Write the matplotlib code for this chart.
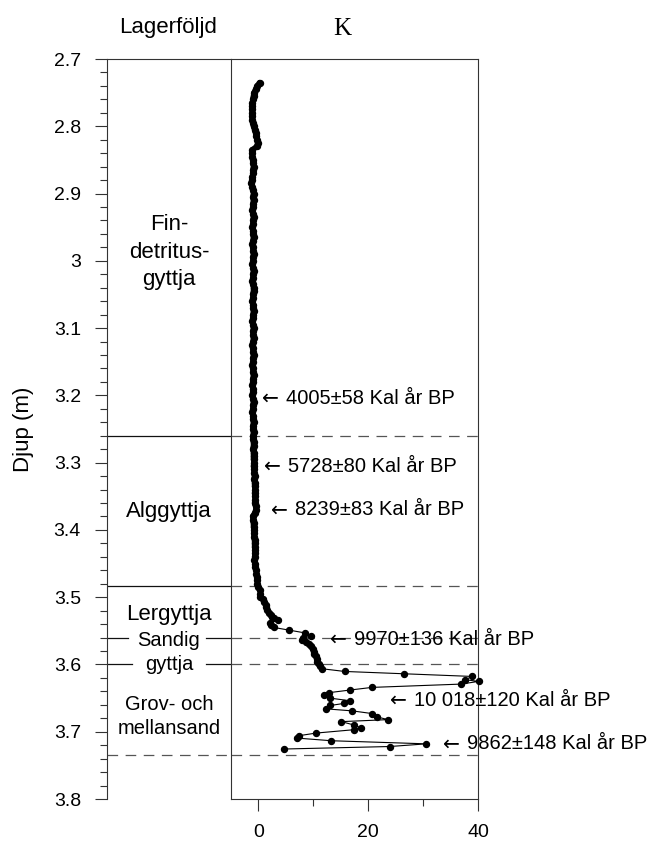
import matplotlib
matplotlib.use('Agg')
import matplotlib.pyplot as plt
from matplotlib.ticker import MultipleLocator, FuncFormatter, FixedLocator
from matplotlib.transforms import offset_copy

plt.rcParams['font.family'] = ['Liberation Sans', 'DejaVu Sans']

# ---------------- data ----------------
# upper, dense gyttja section (depth m, value)
depth_upper = [
    2.735, 2.740, 2.745, 2.750, 2.755, 2.760, 2.765, 2.770, 2.775, 2.780,
    2.785, 2.790, 2.795, 2.800, 2.805, 2.810, 2.815, 2.820, 2.825, 2.830,
    2.835, 2.840, 2.845, 2.850, 2.855, 2.860, 2.865, 2.870, 2.875, 2.880,
    2.885, 2.890, 2.895, 2.900, 2.905, 2.910, 2.915, 2.920, 2.925, 2.930,
    2.935, 2.940, 2.945, 2.950, 2.955, 2.960, 2.965, 2.970, 2.975, 2.980,
    2.985, 2.990, 2.995, 3.000, 3.005, 3.010, 3.015, 3.020, 3.025, 3.030,
    3.035, 3.040, 3.045, 3.050, 3.055, 3.060, 3.065, 3.070, 3.075, 3.080,
    3.085, 3.090, 3.095, 3.100, 3.105, 3.110, 3.115, 3.120, 3.125, 3.130,
    3.135, 3.140, 3.145, 3.150, 3.155, 3.160, 3.165, 3.170, 3.175, 3.180,
    3.185, 3.190, 3.195, 3.200, 3.205, 3.210, 3.215, 3.220, 3.225, 3.230,
    3.235, 3.240, 3.245, 3.250, 3.255, 3.260, 3.265, 3.270, 3.275, 3.280,
    3.285, 3.290, 3.295, 3.300, 3.305, 3.310, 3.315, 3.320, 3.325, 3.330,
    3.335, 3.340, 3.345, 3.350, 3.355, 3.360, 3.365, 3.370, 3.375, 3.380,
    3.385, 3.390, 3.395, 3.400, 3.405, 3.410, 3.415, 3.420, 3.425, 3.430,
    3.435, 3.440,
]
value_upper = [
    0.2, -0.2, -0.5, -0.8, -0.9, -1.0, -1.1, -1.1, -1.2, -1.1,
    -1.2, -1.1, -1.0, -0.9, -0.7, -0.5, -0.4, -0.2, -0.1, -0.3,
    -1.1, -1.2, -1.1, -1.0, -1.0, -0.9, -1.0, -1.0, -1.1, -1.2,
    -1.3, -1.1, -1.0, -0.9, -1.0, -0.9, -1.0, -1.0, -1.1, -1.0,
    -0.9, -1.0, -1.0, -1.1, -1.0, -1.0, -0.9, -1.0, -1.1, -1.0,
    -1.0, -0.9, -1.0, -1.0, -1.1, -1.0, -0.9, -1.0, -1.0, -1.1,
    -1.0, -0.9, -0.9, -1.0, -1.0, -1.1, -1.0, -1.0, -0.9, -1.0,
    -1.0, -1.1, -1.0, -0.9, -1.0, -1.0, -0.9, -1.0, -1.1, -1.0,
    -1.0, -0.9, -1.0, -1.0, -1.1, -1.0, -1.0, -0.9, -1.0, -1.0,
    -1.1, -1.0, -1.0, -1.1, -1.0, -0.9, -1.0, -1.0, -1.1, -1.0,
    -1.0, -0.9, -1.0, -1.0, -0.9, -1.0, -1.0, -0.9, -0.9, -1.0,
    -0.9, -0.9, -0.9, -0.8, -0.9, -0.8, -0.8, -0.7, -0.8, -0.7,
    -0.7, -0.6, -0.7, -0.6, -0.6, -0.7, -0.5, -0.4, -0.7, -1.0,
    -1.0, -0.9, -0.9, -0.8, -0.8, -0.8, -0.7, -0.7, -0.7, -0.6,
    -0.6, -0.7,
]
# transition section (Alggyttja -> Lergyttja -> Sandig gyttja)
depth_mid = [
    3.445, 3.450, 3.455, 3.460, 3.465, 3.470, 3.475, 3.480, 3.485, 3.490,
    3.495, 3.499, 3.503, 3.507, 3.511, 3.515, 3.519, 3.523, 3.526, 3.529,
    3.531, 3.534, 3.538, 3.541, 3.545, 3.549, 3.553, 3.558, 3.561, 3.563,
    3.566, 3.569, 3.573, 3.577, 3.581, 3.584, 3.588, 3.592, 3.596, 3.600,
    3.603,
]
value_mid = [
    -0.8, -0.7, -0.6, -0.5, -0.4, -0.2, -0.2, -0.3, 0.0, 0.2,
    0.3, 0.3, 0.8, 1.0, 1.3, 1.4, 1.6, 1.9, 2.2, 2.5,
    2.8, 3.5, 2.1, 2.3, 2.8, 5.6, 8.4, 9.5, 8.2, 8.0,
    8.6, 9.3, 9.6, 9.9, 10.1, 10.2, 10.4, 10.6, 10.7, 11.0,
    11.2,
]
# sand section
depth_sand = [
    3.6064, 3.6104, 3.6138, 3.6178, 3.6227, 3.6252, 3.6292, 3.6341, 3.6380, 3.6420,
    3.6460, 3.6500, 3.6540, 3.6580, 3.6610, 3.6660, 3.6690, 3.6730, 3.6780, 3.6820,
    3.6850, 3.6900, 3.6940, 3.6970, 3.7020, 3.7060, 3.7095, 3.7134, 3.7180, 3.7220,
    3.7257,
]
value_sand = [
    11.6, 15.7, 26.5, 38.9, 37.7, 40.1, 36.9, 20.7, 16.7, 12.8,
    11.9, 13.0, 16.7, 15.5, 13.1, 12.3, 17.1, 20.7, 21.6, 23.6,
    15.1, 17.4, 18.6, 17.4, 10.5, 7.3, 7.1, 13.3, 30.6, 23.9,
    4.7,
]

# layer boundaries (m)
boundaries = [3.26, 3.483, 3.56, 3.60, 3.735]
# lithology labels and their depths
layer_labels = ["Fin-\ndetritus-\ngyttja", "Alggyttja", "Lergyttja", "Sandig", "gyttja",
                "Grov- och\nmellansand"]
layer_depths = [2.987, 3.373, 3.526, 3.564, 3.600, 3.677]
# dating annotations
date_labels = ["4005\u00b158 Kal år BP", "5728\u00b180 Kal år BP", "8239\u00b183 Kal år BP",
               "9970\u00b1136 Kal år BP", "10 018\u00b1120 Kal år BP", "9862\u00b1148 Kal år BP"]
date_depths = [3.204, 3.306, 3.370, 3.563, 3.653, 3.718]
date_xpos = [0.7, 1.0, 2.2, 13.1, 23.9, 33.7]

x_major = [0, 20, 40]
x_minor = [10, 30]

# ---------------- figure ----------------
W, H = 652, 843
fig = plt.figure(figsize=(W / 100, H / 100), dpi=100)


def rect(x0, x1, y0, y1):
    return [x0 / W, 1 - y1 / H, (x1 - x0) / W, (y1 - y0) / H]


spine_c = '#333333'
axL = fig.add_axes(rect(107, 231, 59, 799))
axR = fig.add_axes(rect(231, 478, 59, 799))

# --- left (lithology) panel ---
axL.set_xlim(0, 1)
axL.set_ylim(3.8, 2.7)
axL.spines['bottom'].set_visible(False)
axL.spines['right'].set_visible(False)
for s in ('left', 'top'):
    axL.spines[s].set_color(spine_c)
    axL.spines[s].set_linewidth(0.8)
axL.set_xticks([])
axL.yaxis.set_major_locator(MultipleLocator(0.1))
axL.yaxis.set_minor_locator(MultipleLocator(0.02))
axL.yaxis.set_major_formatter(FuncFormatter(lambda v, p: f"{round(v, 3):g}"))
axL.tick_params(axis='y', which='major', direction='out', length=8.8, width=0.8,
                color=spine_c, labelsize=14, pad=10)
axL.tick_params(axis='y', which='minor', direction='out', length=4.8, width=0.8, color=spine_c)

# --- right (data) panel ---
axR.set_xlim(-5, 40)
axR.set_ylim(3.8, 2.7)
for s in axR.spines.values():
    s.set_color(spine_c)
    s.set_linewidth(0.8)
axR.set_yticks([])
axR.xaxis.set_major_locator(FixedLocator(x_major))
axR.xaxis.set_minor_locator(FixedLocator(x_minor))
axR.tick_params(axis='x', which='major', direction='out', length=8.8, width=0.8,
                color=spine_c, labelsize=14, pad=9)
axR.tick_params(axis='x', which='minor', direction='out', length=4.8, width=0.8, color=spine_c)

# boundaries
dash = (8.5, 6.0)
for i, b in enumerate(boundaries):
    axR.axhline(b, color='#555555', lw=0.9, linestyle=(0, dash), zorder=1)
    if i < 2:
        axL.axhline(b, color='#111111', lw=0.9)
    elif i < 4:
        gap_start = 0.17 if i == 2 else 0.2
        axL.axhline(b, xmin=0, xmax=gap_start, color='#111111', lw=0.9)
        axL.axhline(b, xmin=0.8, xmax=1.0, color='#111111', lw=0.9)
    else:
        axL.axhline(b, color='#555555', lw=0.9, linestyle=(0, dash))

# data
axR.plot(value_upper, depth_upper, '-', color='black', lw=4.0, zorder=3,
         solid_capstyle='round', solid_joinstyle='round')
depth_all = depth_upper + depth_mid + depth_sand
value_all = value_upper + value_mid + value_sand
axR.plot(value_all, depth_all, '-', color='black', lw=0.8, zorder=3, clip_on=False)
axR.plot(value_all, depth_all, 'o', color='black', ms=4.3, zorder=4, clip_on=False)

# lithology labels
sizes = [16, 16, 16, 14.5, 14.5, 14.5]
spacing = [1.4, 1.0, 1.0, 1.0, 1.0, 1.3]
for lab, d, fs, ls in zip(layer_labels, layer_depths, sizes, spacing):
    axL.text(0.5, d, lab, ha='center', va='center', fontsize=fs, linespacing=ls,
             multialignment='center')

# dating annotations: long arrow glyph + text
txt_shift = offset_copy(axR.transData, fig=fig, x=24, y=0, units='dots')
for lab, d, x in zip(date_labels, date_depths, date_xpos):
    axR.text(x, d, "\u2190", ha='left', va='center', fontsize=14.5, clip_on=False,
             family=['DejaVu Sans'])
    axR.text(x, d, lab, ha='left', va='center', fontsize=14.5, clip_on=False,
             transform=txt_shift)

# titles / axis label
fig.text(168 / W, 1 - 32.5 / H, "Lagerföljd", ha='center', va='baseline', fontsize=16)
fig.text(342 / W, 1 - 35 / H, "K", ha='center', va='baseline', fontsize=18,
         family=['Liberation Serif', 'DejaVu Serif'])
fig.text(23 / W, 1 - 429 / H, "Djup (m)", ha='center', va='center', rotation=90, fontsize=16)

fig.savefig('out.png', dpi=100)
